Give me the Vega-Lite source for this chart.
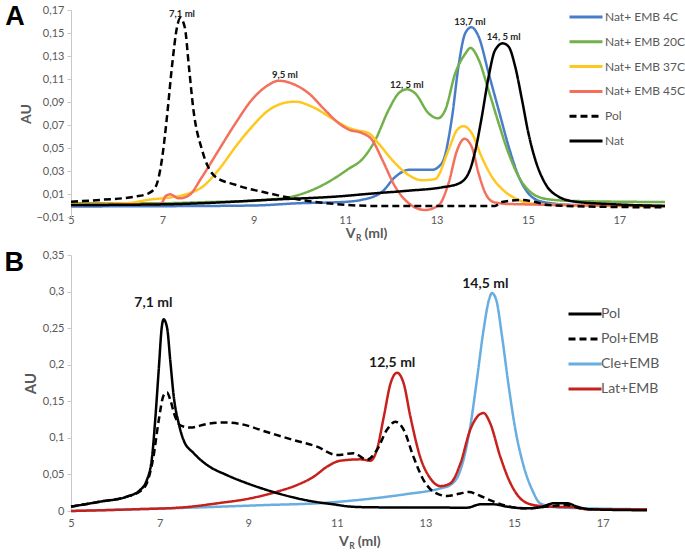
{
  "$schema": "https://vega.github.io/schema/vega-lite/v6.json",
  "padding": {"left": 4, "top": -1, "right": 22, "bottom": 0},
  "spacing": 5,
  "resolve": {
    "scale": {"color": "independent", "strokeDash": "independent"},
    "legend": {"color": "independent", "strokeDash": "independent"}
  },
  "config": {
    "view": {"stroke": null},
    "font": "Lato",
    "axis": {
      "labelFont": "Lato", "labelFontSize": 11, "labelColor": "#595959", "labelOverlap": false,
      "titleFont": "Lato", "titleFontSize": 14, "titleFontWeight": "bold", "titleColor": "#595959",
      "grid": false, "domainColor": "#c8c8c8", "tickColor": "#c8c8c8"
    },
    "legend": {
      "symbolType": "stroke", "symbolStrokeWidth": 3, "symbolSize": 1089,
      "labelFont": "Lato", "labelColor": "#595959", "padding": 0, "labelOffset": 1
    }
  },
  "datasets": {
    "a": [
      {"s": "Nat+ EMB 4C", "v": 5, "au": -0.0008},
      {"s": "Nat+ EMB 4C", "v": 7, "au": -0.0006},
      {"s": "Nat+ EMB 4C", "v": 9, "au": 0.0},
      {"s": "Nat+ EMB 4C", "v": 10, "au": 0.002},
      {"s": "Nat+ EMB 4C", "v": 10.93, "au": 0.003},
      {"s": "Nat+ EMB 4C", "v": 11.37, "au": 0.005},
      {"s": "Nat+ EMB 4C", "v": 11.81, "au": 0.012},
      {"s": "Nat+ EMB 4C", "v": 12.1, "au": 0.025},
      {"s": "Nat+ EMB 4C", "v": 12.39, "au": 0.031},
      {"s": "Nat+ EMB 4C", "v": 12.9, "au": 0.031},
      {"s": "Nat+ EMB 4C", "v": 13.12, "au": 0.037},
      {"s": "Nat+ EMB 4C", "v": 13.34, "au": 0.077},
      {"s": "Nat+ EMB 4C", "v": 13.48, "au": 0.121},
      {"s": "Nat+ EMB 4C", "v": 13.63, "au": 0.15},
      {"s": "Nat+ EMB 4C", "v": 13.76, "au": 0.155},
      {"s": "Nat+ EMB 4C", "v": 13.92, "au": 0.147},
      {"s": "Nat+ EMB 4C", "v": 14.14, "au": 0.115},
      {"s": "Nat+ EMB 4C", "v": 14.36, "au": 0.083},
      {"s": "Nat+ EMB 4C", "v": 14.58, "au": 0.051},
      {"s": "Nat+ EMB 4C", "v": 14.8, "au": 0.025},
      {"s": "Nat+ EMB 4C", "v": 15.01, "au": 0.0106},
      {"s": "Nat+ EMB 4C", "v": 15.31, "au": 0.0033},
      {"s": "Nat+ EMB 4C", "v": 16.04, "au": 0.0004},
      {"s": "Nat+ EMB 4C", "v": 18, "au": -0.0004},

      {"s": "Nat+ EMB 20C", "v": 5, "au": 0.002},
      {"s": "Nat+ EMB 20C", "v": 7, "au": 0.002},
      {"s": "Nat+ EMB 20C", "v": 8, "au": 0.003},
      {"s": "Nat+ EMB 20C", "v": 9, "au": 0.004},
      {"s": "Nat+ EMB 20C", "v": 9.33, "au": 0.005},
      {"s": "Nat+ EMB 20C", "v": 9.84, "au": 0.0077},
      {"s": "Nat+ EMB 20C", "v": 10.42, "au": 0.016},
      {"s": "Nat+ EMB 20C", "v": 10.78, "au": 0.024},
      {"s": "Nat+ EMB 20C", "v": 11.08, "au": 0.032},
      {"s": "Nat+ EMB 20C", "v": 11.37, "au": 0.04},
      {"s": "Nat+ EMB 20C", "v": 11.66, "au": 0.057},
      {"s": "Nat+ EMB 20C", "v": 11.95, "au": 0.083},
      {"s": "Nat+ EMB 20C", "v": 12.17, "au": 0.0976},
      {"s": "Nat+ EMB 20C", "v": 12.35, "au": 0.101},
      {"s": "Nat+ EMB 20C", "v": 12.53, "au": 0.0976},
      {"s": "Nat+ EMB 20C", "v": 12.83, "au": 0.08},
      {"s": "Nat+ EMB 20C", "v": 13.03, "au": 0.0758},
      {"s": "Nat+ EMB 20C", "v": 13.19, "au": 0.083},
      {"s": "Nat+ EMB 20C", "v": 13.41, "au": 0.115},
      {"s": "Nat+ EMB 20C", "v": 13.63, "au": 0.132},
      {"s": "Nat+ EMB 20C", "v": 13.74, "au": 0.137},
      {"s": "Nat+ EMB 20C", "v": 13.92, "au": 0.127},
      {"s": "Nat+ EMB 20C", "v": 14.14, "au": 0.1},
      {"s": "Nat+ EMB 20C", "v": 14.36, "au": 0.0715},
      {"s": "Nat+ EMB 20C", "v": 14.58, "au": 0.045},
      {"s": "Nat+ EMB 20C", "v": 14.8, "au": 0.025},
      {"s": "Nat+ EMB 20C", "v": 15.09, "au": 0.0106},
      {"s": "Nat+ EMB 20C", "v": 15.45, "au": 0.0054},
      {"s": "Nat+ EMB 20C", "v": 16.04, "au": 0.0039},
      {"s": "Nat+ EMB 20C", "v": 18, "au": 0.003},

      {"s": "Nat+ EMB 37C", "v": 5, "au": 0.001},
      {"s": "Nat+ EMB 37C", "v": 6.2, "au": 0.002},
      {"s": "Nat+ EMB 37C", "v": 6.77, "au": 0.0054},
      {"s": "Nat+ EMB 37C", "v": 7.14, "au": 0.0068},
      {"s": "Nat+ EMB 37C", "v": 7.58, "au": 0.0106},
      {"s": "Nat+ EMB 37C", "v": 7.87, "au": 0.016},
      {"s": "Nat+ EMB 37C", "v": 8.23, "au": 0.031},
      {"s": "Nat+ EMB 37C", "v": 8.6, "au": 0.051},
      {"s": "Nat+ EMB 37C", "v": 8.96, "au": 0.0685},
      {"s": "Nat+ EMB 37C", "v": 9.33, "au": 0.083},
      {"s": "Nat+ EMB 37C", "v": 9.69, "au": 0.0894},
      {"s": "Nat+ EMB 37C", "v": 9.91, "au": 0.0903},
      {"s": "Nat+ EMB 37C", "v": 10.27, "au": 0.086},
      {"s": "Nat+ EMB 37C", "v": 10.71, "au": 0.0758},
      {"s": "Nat+ EMB 37C", "v": 11.0, "au": 0.069},
      {"s": "Nat+ EMB 37C", "v": 11.22, "au": 0.0657},
      {"s": "Nat+ EMB 37C", "v": 11.51, "au": 0.063},
      {"s": "Nat+ EMB 37C", "v": 11.73, "au": 0.054},
      {"s": "Nat+ EMB 37C", "v": 12.02, "au": 0.04},
      {"s": "Nat+ EMB 37C", "v": 12.39, "au": 0.0265},
      {"s": "Nat+ EMB 37C", "v": 12.68, "au": 0.022},
      {"s": "Nat+ EMB 37C", "v": 12.97, "au": 0.023},
      {"s": "Nat+ EMB 37C", "v": 13.26, "au": 0.048},
      {"s": "Nat+ EMB 37C", "v": 13.45, "au": 0.0657},
      {"s": "Nat+ EMB 37C", "v": 13.59, "au": 0.069},
      {"s": "Nat+ EMB 37C", "v": 13.77, "au": 0.063},
      {"s": "Nat+ EMB 37C", "v": 13.99, "au": 0.042},
      {"s": "Nat+ EMB 37C", "v": 14.21, "au": 0.025},
      {"s": "Nat+ EMB 37C", "v": 14.5, "au": 0.012},
      {"s": "Nat+ EMB 37C", "v": 14.8, "au": 0.0048},
      {"s": "Nat+ EMB 37C", "v": 15.16, "au": 0.0013},
      {"s": "Nat+ EMB 37C", "v": 18, "au": -0.001},

      {"s": "Nat+ EMB 45C", "v": 5, "au": 0.0005},
      {"s": "Nat+ EMB 45C", "v": 6.9, "au": 0.001},
      {"s": "Nat+ EMB 45C", "v": 7.0, "au": 0.003},
      {"s": "Nat+ EMB 45C", "v": 7.06, "au": 0.0077},
      {"s": "Nat+ EMB 45C", "v": 7.17, "au": 0.0097},
      {"s": "Nat+ EMB 45C", "v": 7.36, "au": 0.0062},
      {"s": "Nat+ EMB 45C", "v": 7.58, "au": 0.0088},
      {"s": "Nat+ EMB 45C", "v": 7.87, "au": 0.025},
      {"s": "Nat+ EMB 45C", "v": 8.23, "au": 0.048},
      {"s": "Nat+ EMB 45C", "v": 8.6, "au": 0.0715},
      {"s": "Nat+ EMB 45C", "v": 8.96, "au": 0.092},
      {"s": "Nat+ EMB 45C", "v": 9.33, "au": 0.105},
      {"s": "Nat+ EMB 45C", "v": 9.54, "au": 0.1085},
      {"s": "Nat+ EMB 45C", "v": 9.84, "au": 0.106},
      {"s": "Nat+ EMB 45C", "v": 10.2, "au": 0.0976},
      {"s": "Nat+ EMB 45C", "v": 10.56, "au": 0.083},
      {"s": "Nat+ EMB 45C", "v": 10.86, "au": 0.0715},
      {"s": "Nat+ EMB 45C", "v": 11.08, "au": 0.066},
      {"s": "Nat+ EMB 45C", "v": 11.37, "au": 0.063},
      {"s": "Nat+ EMB 45C", "v": 11.59, "au": 0.057},
      {"s": "Nat+ EMB 45C", "v": 11.81, "au": 0.04},
      {"s": "Nat+ EMB 45C", "v": 12.1, "au": 0.016},
      {"s": "Nat+ EMB 45C", "v": 12.39, "au": 0.002},
      {"s": "Nat+ EMB 45C", "v": 12.75, "au": -0.0039},
      {"s": "Nat+ EMB 45C", "v": 13.05, "au": 0.0004},
      {"s": "Nat+ EMB 45C", "v": 13.26, "au": 0.019},
      {"s": "Nat+ EMB 45C", "v": 13.45, "au": 0.048},
      {"s": "Nat+ EMB 45C", "v": 13.61, "au": 0.058},
      {"s": "Nat+ EMB 45C", "v": 13.77, "au": 0.051},
      {"s": "Nat+ EMB 45C", "v": 13.92, "au": 0.028},
      {"s": "Nat+ EMB 45C", "v": 14.07, "au": 0.0106},
      {"s": "Nat+ EMB 45C", "v": 14.25, "au": 0.003},
      {"s": "Nat+ EMB 45C", "v": 14.58, "au": 0.0013},
      {"s": "Nat+ EMB 45C", "v": 18, "au": -0.0004},

      {"s": "Nat", "v": 5, "au": 0.0004},
      {"s": "Nat", "v": 7, "au": 0.001},
      {"s": "Nat", "v": 7.87, "au": 0.002},
      {"s": "Nat", "v": 9.33, "au": 0.005},
      {"s": "Nat", "v": 10.78, "au": 0.0077},
      {"s": "Nat", "v": 11.65, "au": 0.0106},
      {"s": "Nat", "v": 12.39, "au": 0.0129},
      {"s": "Nat", "v": 13.12, "au": 0.0158},
      {"s": "Nat", "v": 13.48, "au": 0.019},
      {"s": "Nat", "v": 13.7, "au": 0.028},
      {"s": "Nat", "v": 13.85, "au": 0.048},
      {"s": "Nat", "v": 13.99, "au": 0.077},
      {"s": "Nat", "v": 14.14, "au": 0.112},
      {"s": "Nat", "v": 14.28, "au": 0.135},
      {"s": "Nat", "v": 14.45, "au": 0.141},
      {"s": "Nat", "v": 14.58, "au": 0.138},
      {"s": "Nat", "v": 14.72, "au": 0.121},
      {"s": "Nat", "v": 14.87, "au": 0.092},
      {"s": "Nat", "v": 15.01, "au": 0.063},
      {"s": "Nat", "v": 15.16, "au": 0.04},
      {"s": "Nat", "v": 15.38, "au": 0.019},
      {"s": "Nat", "v": 15.67, "au": 0.0077},
      {"s": "Nat", "v": 16.04, "au": 0.0033},
      {"s": "Nat", "v": 16.77, "au": 0.0013},
      {"s": "Nat", "v": 18, "au": -0.0004},

      {"s": "Pol", "v": 5, "au": 0.0033},
      {"s": "Pol", "v": 5.68, "au": 0.005},
      {"s": "Pol", "v": 6.4, "au": 0.0077},
      {"s": "Pol", "v": 6.7, "au": 0.0106},
      {"s": "Pol", "v": 6.85, "au": 0.016},
      {"s": "Pol", "v": 6.99, "au": 0.04},
      {"s": "Pol", "v": 7.1, "au": 0.077},
      {"s": "Pol", "v": 7.21, "au": 0.121},
      {"s": "Pol", "v": 7.32, "au": 0.155},
      {"s": "Pol", "v": 7.39, "au": 0.163},
      {"s": "Pol", "v": 7.49, "au": 0.155},
      {"s": "Pol", "v": 7.58, "au": 0.121},
      {"s": "Pol", "v": 7.68, "au": 0.083},
      {"s": "Pol", "v": 7.87, "au": 0.048},
      {"s": "Pol", "v": 8.16, "au": 0.025},
      {"s": "Pol", "v": 8.6, "au": 0.018},
      {"s": "Pol", "v": 9.33, "au": 0.0106},
      {"s": "Pol", "v": 10.05, "au": 0.0048},
      {"s": "Pol", "v": 10.78, "au": 0.0013},
      {"s": "Pol", "v": 11.65, "au": -0.0004},
      {"s": "Pol", "v": 14.28, "au": -0.0004},
      {"s": "Pol", "v": 14.43, "au": 0.003},
      {"s": "Pol", "v": 14.87, "au": 0.0048},
      {"s": "Pol", "v": 15.16, "au": 0.003},
      {"s": "Pol", "v": 15.45, "au": 0.0004},
      {"s": "Pol", "v": 16.5, "au": -0.001},
      {"s": "Pol", "v": 18, "au": -0.0016}
    ],
    "annA": [
      {"t": "7,1 ml", "v": 7.43, "au": 0.1665},
      {"t": "9,5 ml", "v": 9.68, "au": 0.1135},
      {"t": "12, 5 ml", "v": 12.35, "au": 0.1048},
      {"t": "13,7 ml", "v": 13.73, "au": 0.1598},
      {"t": "14, 5 ml", "v": 14.47, "au": 0.1463}
    ],
    "b": [
      {"s": "Cle+EMB", "v": 5, "au": 0.0},
      {"s": "Cle+EMB", "v": 6.41, "au": 0.0023},
      {"s": "Cle+EMB", "v": 7.92, "au": 0.005},
      {"s": "Cle+EMB", "v": 9.42, "au": 0.0082},
      {"s": "Cle+EMB", "v": 10.55, "au": 0.0105},
      {"s": "Cle+EMB", "v": 11.08, "au": 0.0128},
      {"s": "Cle+EMB", "v": 11.83, "au": 0.0173},
      {"s": "Cle+EMB", "v": 12.58, "au": 0.0232},
      {"s": "Cle+EMB", "v": 13.34, "au": 0.031},
      {"s": "Cle+EMB", "v": 13.56, "au": 0.0355},
      {"s": "Cle+EMB", "v": 13.79, "au": 0.056},
      {"s": "Cle+EMB", "v": 14.01, "au": 0.115},
      {"s": "Cle+EMB", "v": 14.16, "au": 0.179},
      {"s": "Cle+EMB", "v": 14.31, "au": 0.247},
      {"s": "Cle+EMB", "v": 14.43, "au": 0.288},
      {"s": "Cle+EMB", "v": 14.5, "au": 0.298},
      {"s": "Cle+EMB", "v": 14.6, "au": 0.288},
      {"s": "Cle+EMB", "v": 14.73, "au": 0.238},
      {"s": "Cle+EMB", "v": 14.88, "au": 0.17},
      {"s": "Cle+EMB", "v": 15.03, "au": 0.111},
      {"s": "Cle+EMB", "v": 15.22, "au": 0.0606},
      {"s": "Cle+EMB", "v": 15.41, "au": 0.0287},
      {"s": "Cle+EMB", "v": 15.59, "au": 0.0105},
      {"s": "Cle+EMB", "v": 15.97, "au": 0.005},
      {"s": "Cle+EMB", "v": 18, "au": 0.0023},

      {"s": "Lat+EMB", "v": 5, "au": 0.0},
      {"s": "Lat+EMB", "v": 6.41, "au": 0.0023},
      {"s": "Lat+EMB", "v": 7.54, "au": 0.005},
      {"s": "Lat+EMB", "v": 8.3, "au": 0.0105},
      {"s": "Lat+EMB", "v": 9.05, "au": 0.0173},
      {"s": "Lat+EMB", "v": 9.65, "au": 0.0264},
      {"s": "Lat+EMB", "v": 10.1, "au": 0.0355},
      {"s": "Lat+EMB", "v": 10.48, "au": 0.047},
      {"s": "Lat+EMB", "v": 10.78, "au": 0.0606},
      {"s": "Lat+EMB", "v": 11.08, "au": 0.0688},
      {"s": "Lat+EMB", "v": 11.53, "au": 0.0706},
      {"s": "Lat+EMB", "v": 11.76, "au": 0.0688},
      {"s": "Lat+EMB", "v": 11.9, "au": 0.083},
      {"s": "Lat+EMB", "v": 12.06, "au": 0.129},
      {"s": "Lat+EMB", "v": 12.21, "au": 0.174},
      {"s": "Lat+EMB", "v": 12.36, "au": 0.189},
      {"s": "Lat+EMB", "v": 12.51, "au": 0.174},
      {"s": "Lat+EMB", "v": 12.66, "au": 0.129},
      {"s": "Lat+EMB", "v": 12.88, "au": 0.074},
      {"s": "Lat+EMB", "v": 13.11, "au": 0.0446},
      {"s": "Lat+EMB", "v": 13.34, "au": 0.034},
      {"s": "Lat+EMB", "v": 13.56, "au": 0.0378},
      {"s": "Lat+EMB", "v": 13.79, "au": 0.065},
      {"s": "Lat+EMB", "v": 14.01, "au": 0.111},
      {"s": "Lat+EMB", "v": 14.2, "au": 0.131},
      {"s": "Lat+EMB", "v": 14.31, "au": 0.134},
      {"s": "Lat+EMB", "v": 14.46, "au": 0.12},
      {"s": "Lat+EMB", "v": 14.69, "au": 0.074},
      {"s": "Lat+EMB", "v": 14.92, "au": 0.0378},
      {"s": "Lat+EMB", "v": 15.14, "au": 0.0173},
      {"s": "Lat+EMB", "v": 15.44, "au": 0.0082},
      {"s": "Lat+EMB", "v": 15.82, "au": 0.006},
      {"s": "Lat+EMB", "v": 16.35, "au": 0.005},
      {"s": "Lat+EMB", "v": 16.65, "au": 0.0023},
      {"s": "Lat+EMB", "v": 18, "au": 0.0023},

      {"s": "Pol", "v": 5, "au": 0.006},
      {"s": "Pol", "v": 5.66, "au": 0.0128},
      {"s": "Pol", "v": 6.26, "au": 0.0196},
      {"s": "Pol", "v": 6.56, "au": 0.0287},
      {"s": "Pol", "v": 6.71, "au": 0.042},
      {"s": "Pol", "v": 6.83, "au": 0.074},
      {"s": "Pol", "v": 6.9, "au": 0.124},
      {"s": "Pol", "v": 6.98, "au": 0.193},
      {"s": "Pol", "v": 7.05, "au": 0.252},
      {"s": "Pol", "v": 7.09, "au": 0.262},
      {"s": "Pol", "v": 7.17, "au": 0.25},
      {"s": "Pol", "v": 7.24, "au": 0.206},
      {"s": "Pol", "v": 7.32, "au": 0.156},
      {"s": "Pol", "v": 7.43, "au": 0.12},
      {"s": "Pol", "v": 7.54, "au": 0.097},
      {"s": "Pol", "v": 7.77, "au": 0.079},
      {"s": "Pol", "v": 8.07, "au": 0.063},
      {"s": "Pol", "v": 8.52, "au": 0.049},
      {"s": "Pol", "v": 8.97, "au": 0.038},
      {"s": "Pol", "v": 9.42, "au": 0.0287},
      {"s": "Pol", "v": 9.95, "au": 0.0196},
      {"s": "Pol", "v": 10.48, "au": 0.0128},
      {"s": "Pol", "v": 10.93, "au": 0.0091},
      {"s": "Pol", "v": 11.3, "au": 0.006},
      {"s": "Pol", "v": 11.83, "au": 0.005},
      {"s": "Pol", "v": 13.94, "au": 0.0046},
      {"s": "Pol", "v": 14.24, "au": 0.0091},
      {"s": "Pol", "v": 14.54, "au": 0.0091},
      {"s": "Pol", "v": 14.84, "au": 0.006},
      {"s": "Pol", "v": 15.29, "au": 0.0036},
      {"s": "Pol", "v": 15.59, "au": 0.005},
      {"s": "Pol", "v": 15.89, "au": 0.0105},
      {"s": "Pol", "v": 16.2, "au": 0.0105},
      {"s": "Pol", "v": 16.42, "au": 0.006},
      {"s": "Pol", "v": 16.72, "au": 0.0023},
      {"s": "Pol", "v": 18, "au": 0.001},

      {"s": "Pol+EMB", "v": 5, "au": 0.006},
      {"s": "Pol+EMB", "v": 5.66, "au": 0.0128},
      {"s": "Pol+EMB", "v": 6.26, "au": 0.0196},
      {"s": "Pol+EMB", "v": 6.56, "au": 0.027},
      {"s": "Pol+EMB", "v": 6.71, "au": 0.038},
      {"s": "Pol+EMB", "v": 6.86, "au": 0.074},
      {"s": "Pol+EMB", "v": 6.98, "au": 0.124},
      {"s": "Pol+EMB", "v": 7.09, "au": 0.158},
      {"s": "Pol+EMB", "v": 7.17, "au": 0.162},
      {"s": "Pol+EMB", "v": 7.24, "au": 0.152},
      {"s": "Pol+EMB", "v": 7.35, "au": 0.129},
      {"s": "Pol+EMB", "v": 7.47, "au": 0.117},
      {"s": "Pol+EMB", "v": 7.69, "au": 0.114},
      {"s": "Pol+EMB", "v": 8.07, "au": 0.119},
      {"s": "Pol+EMB", "v": 8.44, "au": 0.121},
      {"s": "Pol+EMB", "v": 8.82, "au": 0.119},
      {"s": "Pol+EMB", "v": 9.42, "au": 0.108},
      {"s": "Pol+EMB", "v": 10.02, "au": 0.097},
      {"s": "Pol+EMB", "v": 10.55, "au": 0.088},
      {"s": "Pol+EMB", "v": 11.0, "au": 0.0765},
      {"s": "Pol+EMB", "v": 11.38, "au": 0.079},
      {"s": "Pol+EMB", "v": 11.68, "au": 0.07},
      {"s": "Pol+EMB", "v": 11.9, "au": 0.083},
      {"s": "Pol+EMB", "v": 12.13, "au": 0.111},
      {"s": "Pol+EMB", "v": 12.32, "au": 0.122},
      {"s": "Pol+EMB", "v": 12.51, "au": 0.111},
      {"s": "Pol+EMB", "v": 12.73, "au": 0.074},
      {"s": "Pol+EMB", "v": 12.96, "au": 0.042},
      {"s": "Pol+EMB", "v": 13.19, "au": 0.026},
      {"s": "Pol+EMB", "v": 13.49, "au": 0.0205},
      {"s": "Pol+EMB", "v": 13.79, "au": 0.024},
      {"s": "Pol+EMB", "v": 13.98, "au": 0.026},
      {"s": "Pol+EMB", "v": 14.24, "au": 0.0205},
      {"s": "Pol+EMB", "v": 14.54, "au": 0.0128},
      {"s": "Pol+EMB", "v": 14.84, "au": 0.0068},
      {"s": "Pol+EMB", "v": 15.29, "au": 0.0036},
      {"s": "Pol+EMB", "v": 15.74, "au": 0.006},
      {"s": "Pol+EMB", "v": 16.2, "au": 0.0082},
      {"s": "Pol+EMB", "v": 16.5, "au": 0.0036},
      {"s": "Pol+EMB", "v": 16.8, "au": 0.0023}
    ],
    "annB": [
      {"t": "7,1 ml", "v": 6.86, "au": 0.284},
      {"t": "12,5 ml", "v": 12.25, "au": 0.2018},
      {"t": "14,5 ml", "v": 14.35, "au": 0.31}
    ]
  },
  "vconcat": [
    {
      "width": 594,
      "height": 207,
      "layer": [
        {
          "data": {"name": "a"},
          "mark": {"type": "line", "strokeWidth": 2.5, "interpolate": "monotone"},
          "encoding": {
            "x": {"field": "v", "type": "quantitative",
              "scale": {"domain": [5, 18], "nice": false, "zero": false},
              "axis": {"values": [5, 7, 9, 11, 13, 15, 17], "format": "d", "title": null, "domain": false, "ticks": false, "labelPadding": -3, "labelFlush": false, "labelOverlap": false}},
            "y": {"field": "au", "type": "quantitative",
              "scale": {"domain": [-0.01, 0.17], "nice": false, "zero": false},
              "axis": {"values": [-0.01, 0.01, 0.03, 0.05, 0.07, 0.09, 0.11, 0.13, 0.15, 0.17], "tickCount": 20, "title": "AU", "tickSize": 4, "labelPadding": 3, "titlePadding": 2, "labelFlush": false, "labelOverlap": false,
                "labelExpr": "replace(format(datum.value, '.2f'), '.', ',')"}},
            "color": {"field": "s", "type": "nominal",
              "scale": {"domain": ["Nat+ EMB 4C", "Nat+ EMB 20C", "Nat+ EMB 37C", "Nat+ EMB 45C", "Pol", "Nat"],
                "range": ["#4a7dc9", "#72b04a", "#ffc820", "#f4705c", "#000000", "#000000"]},
              "legend": {"title": null, "orient": "none", "legendX": 497, "legendY": -11, "labelFontSize": 12, "rowPadding": 0.8}},
            "strokeDash": {"field": "s", "type": "nominal",
              "scale": {"domain": ["Nat+ EMB 4C", "Nat+ EMB 20C", "Nat+ EMB 37C", "Nat+ EMB 45C", "Pol", "Nat"],
                "range": [[1, 0], [1, 0], [1, 0], [1, 0], [7, 4], [1, 0]]},
              "legend": {"title": null, "orient": "none", "legendX": 497, "legendY": -11, "labelFontSize": 12, "rowPadding": 0.8}}
          }
        },
        {
          "data": {"name": "annA"},
          "mark": {"type": "text", "fontSize": 9.5, "fontWeight": "bold", "color": "#262626", "baseline": "middle"},
          "encoding": {
            "x": {"field": "v", "type": "quantitative", "scale": {"domain": [5, 18], "nice": false, "zero": false}},
            "y": {"field": "au", "type": "quantitative", "scale": {"domain": [-0.01, 0.17], "nice": false, "zero": false}},
            "text": {"field": "t"}
          }
        },
        {
          "data": {"values": [{}]},
          "mark": {"type": "text", "text": "A", "font": "Liberation Sans", "fontSize": 27, "fontWeight": "bold", "color": "#000000", "baseline": "middle"},
          "encoding": {"x": {"datum": 3.775, "type": "quantitative"}, "y": {"datum": 0.1643, "type": "quantitative"}}
        },
        {
          "data": {"values": [{}]},
          "mark": {"type": "text", "text": "V", "fontSize": 14, "fontWeight": "bold", "color": "#595959", "align": "right", "baseline": "middle"},
          "encoding": {"x": {"datum": 11.225, "type": "quantitative"}, "y": {"datum": -0.0245, "type": "quantitative"}}
        },
        {
          "data": {"values": [{}]},
          "mark": {"type": "text", "text": "R", "fontSize": 8.5, "fontWeight": "bold", "color": "#595959", "align": "left", "baseline": "middle", "dy": 4, "dx": 0.5},
          "encoding": {"x": {"datum": 11.225, "type": "quantitative"}, "y": {"datum": -0.0245, "type": "quantitative"}}
        },
        {
          "data": {"values": [{}]},
          "mark": {"type": "text", "text": "(ml)", "fontSize": 14, "fontWeight": "bold", "color": "#595959", "align": "left", "baseline": "middle", "dx": 9},
          "encoding": {"x": {"datum": 11.225, "type": "quantitative"}, "y": {"datum": -0.0245, "type": "quantitative"}}
        }
      ]
    },
    {
      "width": 576,
      "height": 256,
      "layer": [
        {
          "data": {"name": "b"},
          "mark": {"type": "line", "strokeWidth": 2.5, "interpolate": "monotone"},
          "encoding": {
            "x": {"field": "v", "type": "quantitative",
              "scale": {"domain": [5, 18], "nice": false, "zero": false},
              "axis": {"values": [5, 7, 9, 11, 13, 15, 17], "format": "d", "title": null, "domain": false, "ticks": false, "labelPadding": 6, "labelFlush": false, "labelOverlap": false}},
            "y": {"field": "au", "type": "quantitative",
              "scale": {"domain": [0, 0.35], "nice": false, "zero": false},
              "axis": {"values": [0, 0.05, 0.1, 0.15, 0.2, 0.25, 0.3, 0.35], "tickCount": 20, "title": "AU", "titleFontSize": 15, "tickSize": 4, "labelPadding": 3, "titlePadding": 4, "labelFlush": false, "labelOverlap": false,
                "labelExpr": "replace(toString(datum.value), '.', ',')"}},
            "color": {"field": "s", "type": "nominal",
              "scale": {"domain": ["Pol", "Pol+EMB", "Cle+EMB", "Lat+EMB"],
                "range": ["#000000", "#000000", "#68aee0", "#c8201c"]},
              "legend": {"title": null, "orient": "none", "legendX": 496, "legendY": 41, "labelFontSize": 14, "rowPadding": -3.7, "labelOffset": -2}},
            "strokeDash": {"field": "s", "type": "nominal",
              "scale": {"domain": ["Pol", "Pol+EMB", "Cle+EMB", "Lat+EMB"],
                "range": [[1, 0], [7, 4], [1, 0], [1, 0]]},
              "legend": {"title": null, "orient": "none", "legendX": 496, "legendY": 41, "labelFontSize": 14, "rowPadding": -3.7, "labelOffset": -2}}
          }
        },
        {
          "data": {"name": "annB"},
          "mark": {"type": "text", "fontSize": 14, "fontWeight": "bold", "color": "#1a1a1a", "baseline": "middle"},
          "encoding": {
            "x": {"field": "v", "type": "quantitative", "scale": {"domain": [5, 18], "nice": false, "zero": false}},
            "y": {"field": "au", "type": "quantitative", "scale": {"domain": [0, 0.35], "nice": false, "zero": false}},
            "text": {"field": "t"}
          }
        },
        {
          "data": {"values": [{}]},
          "mark": {"type": "text", "text": "B", "font": "Liberation Sans", "fontSize": 27, "fontWeight": "bold", "color": "#000000", "baseline": "middle"},
          "encoding": {"x": {"datum": 3.72, "type": "quantitative"}, "y": {"datum": 0.3395, "type": "quantitative"}}
        },
        {
          "data": {"values": [{}]},
          "mark": {"type": "text", "text": "V", "fontSize": 14, "fontWeight": "bold", "color": "#595959", "align": "right", "baseline": "middle"},
          "encoding": {"x": {"datum": 11.27, "type": "quantitative"}, "y": {"datum": -0.0425, "type": "quantitative"}}
        },
        {
          "data": {"values": [{}]},
          "mark": {"type": "text", "text": "R", "fontSize": 8.5, "fontWeight": "bold", "color": "#595959", "align": "left", "baseline": "middle", "dy": 4, "dx": 0.5},
          "encoding": {"x": {"datum": 11.27, "type": "quantitative"}, "y": {"datum": -0.0425, "type": "quantitative"}}
        },
        {
          "data": {"values": [{}]},
          "mark": {"type": "text", "text": "(ml)", "fontSize": 14, "fontWeight": "bold", "color": "#595959", "align": "left", "baseline": "middle", "dx": 9},
          "encoding": {"x": {"datum": 11.27, "type": "quantitative"}, "y": {"datum": -0.0425, "type": "quantitative"}}
        }
      ]
    }
  ]
}
